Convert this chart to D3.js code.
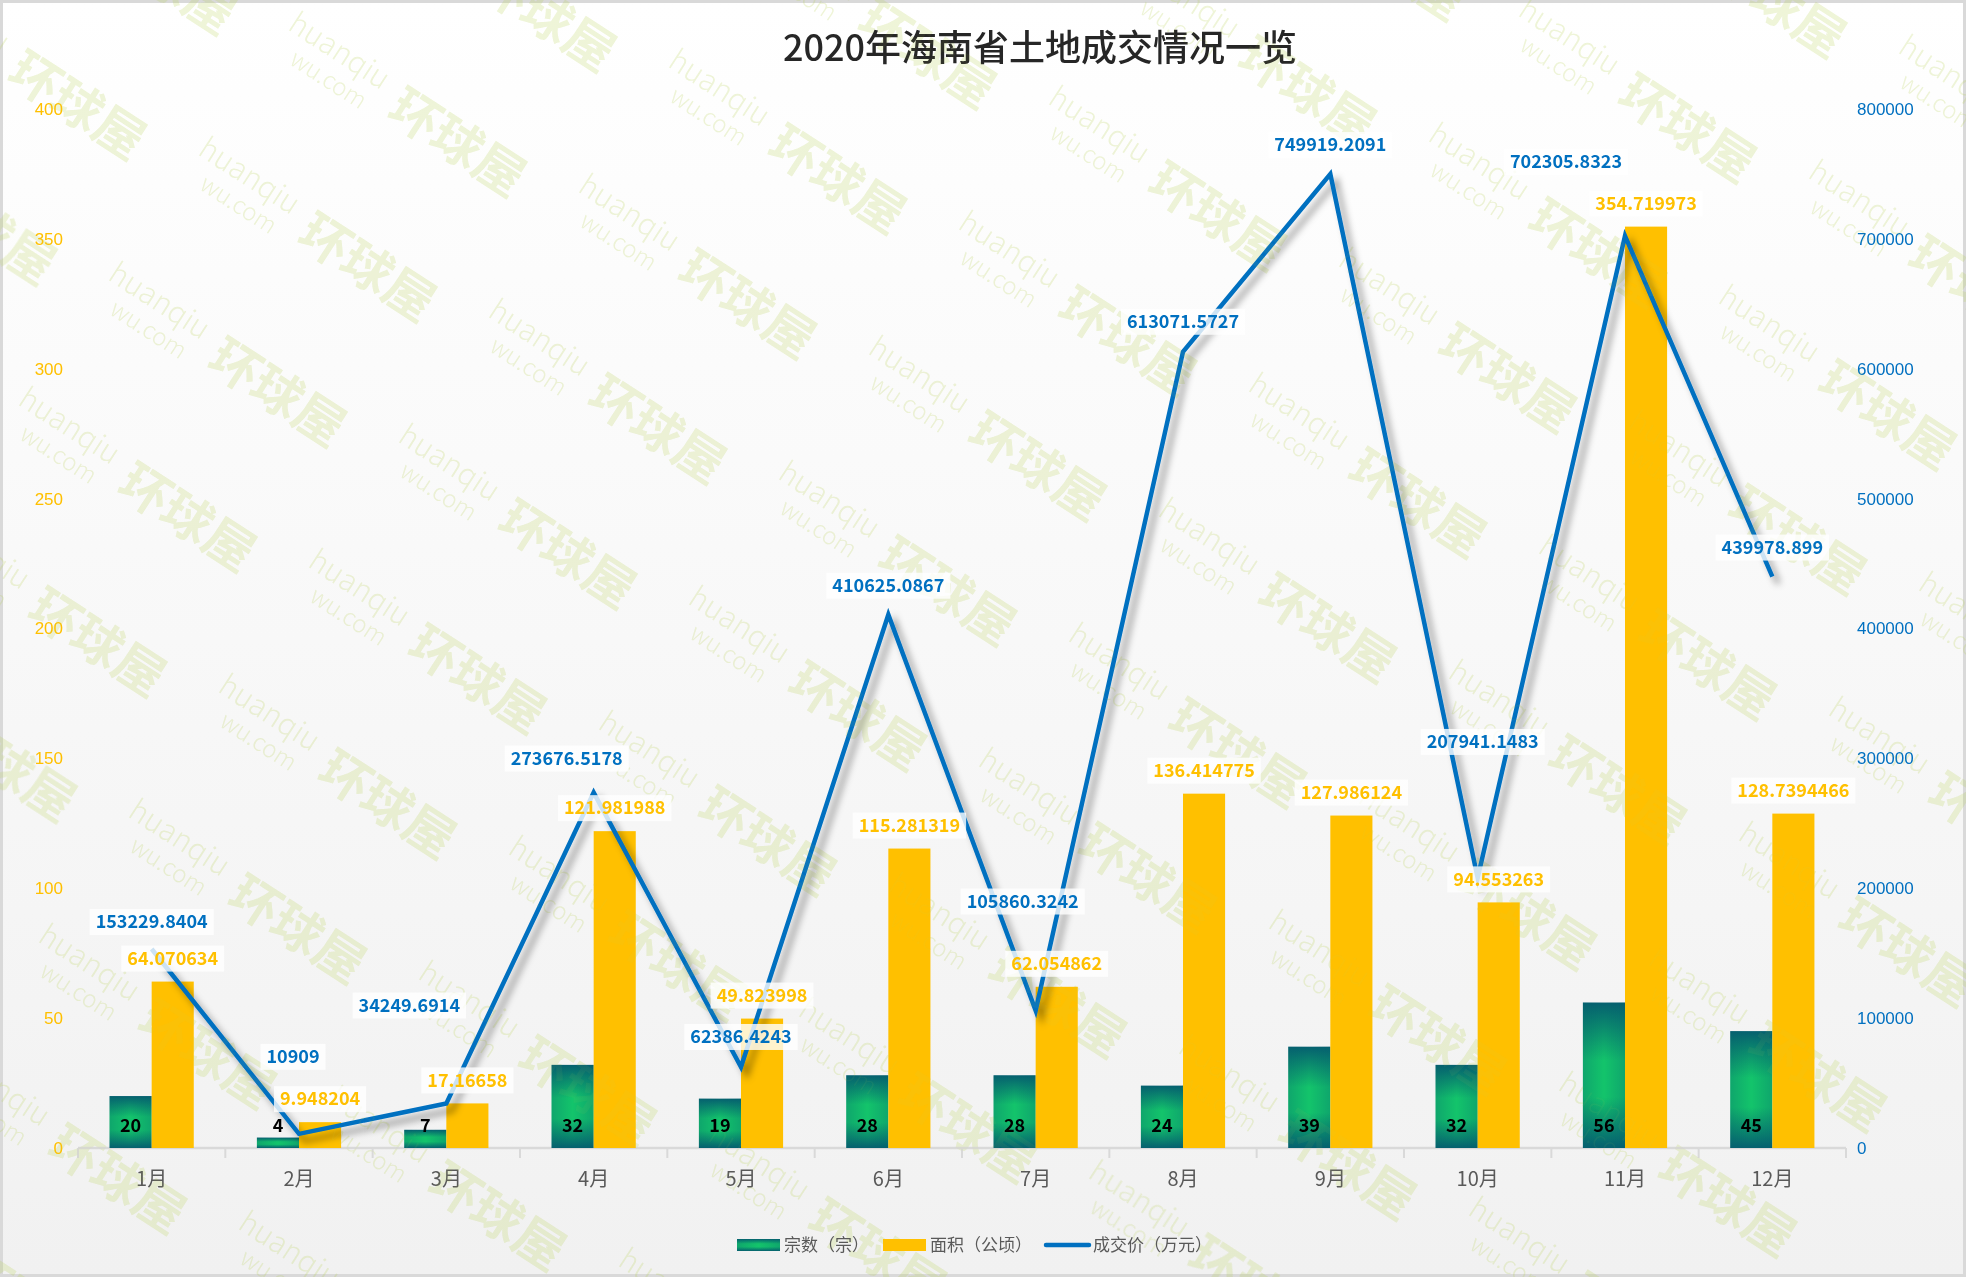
<!DOCTYPE html>
<html>
<head>
<meta charset="utf-8">
<script src="https://cdn.jsdelivr.net/npm/d3@7"></script>
<style>
  body { margin: 0; background: #fff; }
  svg text { font-family: "Noto Sans CJK SC", "Noto Sans", sans-serif; }
  .num { font-family: "Liberation Sans", Arial, sans-serif; }
</style>
</head>
<body>
<svg id="chart" width="1966" height="1277"></svg>
<script>
// data
var months = ["1月", "2月", "3月", "4月", "5月", "6月", "7月", "8月", "9月", "10月", "11月", "12月"];
var counts = [20, 4, 7, 32, 19, 28, 28, 24, 39, 32, 56, 45];
var areas = [64.070634, 9.948204, 17.16658, 121.981988, 49.823998, 115.281319, 62.054862,
             136.414775, 127.986124, 94.553263, 354.719973, 128.7394466];
var prices = [153229.8404, 10909, 34249.6914, 273676.5178, 62386.4243, 410625.0867, 105860.3242,
              613071.5727, 749919.2091, 207941.1483, 702305.8323, 439978.899];
var leftTicks = [0, 50, 100, 150, 200, 250, 300, 350, 400];
var rightTicks = [0, 100000, 200000, 300000, 400000, 500000, 600000, 700000, 800000];
var seriesNames = ["宗数（宗）", "面积（公顷）", "成交价（万元）"];
var title = "2020年海南省土地成交情况一览";

// hand placed price labels in the original: [dx, lift above point] in px
var priceLabelNudge = [[0, 27], [-6, 77], [-37, 98], [-27, 34], [0, 30], [0, 29],
                       [-13, 109], [0, 30], [0, 29], [5, 136], [-59, 74], [0, 29]];

var svg = d3.select("#chart"),
    W = +svg.attr("width"),
    H = +svg.attr("height"),
    plotLeft = 78, plotRight = 1846, plotTop = 109, base = 1148;

var BLUE = "#0070C0", GOLD = "#FFC000", GREY = "#595959";

var defs = svg.append("defs");
var bg = defs.append("linearGradient").attr("id", "bg").attr("x1", 0).attr("y1", 0).attr("x2", 0).attr("y2", 1);
bg.append("stop").attr("offset", 0).attr("stop-color", "#ffffff");
bg.append("stop").attr("offset", 1).attr("stop-color", "#f1f1f1");

var gv = defs.append("linearGradient").attr("id", "greenV").attr("x1", 0).attr("y1", 0).attr("x2", 0).attr("y2", 1);
gv.append("stop").attr("offset", 0).attr("stop-color", "#05606f");
gv.append("stop").attr("offset", 0.4).attr("stop-color", "#13c46b");
gv.append("stop").attr("offset", 0.65).attr("stop-color", "#13c46b");
gv.append("stop").attr("offset", 1).attr("stop-color", "#05606f");

var gh = defs.append("linearGradient").attr("id", "greenH").attr("x1", 0).attr("y1", 0).attr("x2", 1).attr("y2", 0);
gh.append("stop").attr("offset", 0).attr("stop-color", "#05606f").attr("stop-opacity", 0.3);
gh.append("stop").attr("offset", 0.5).attr("stop-color", "#05606f").attr("stop-opacity", 0);
gh.append("stop").attr("offset", 1).attr("stop-color", "#05606f").attr("stop-opacity", 0.3);

var shadow = defs.append("filter").attr("id", "shadow")
    .attr("x", "-10%").attr("y", "-10%").attr("width", "130%").attr("height", "130%");
shadow.append("feDropShadow").attr("dx", 6).attr("dy", 7).attr("stdDeviation", 3.5)
    .attr("flood-color", "#000").attr("flood-opacity", 0.38);

// background
svg.append("rect").attr("x", 1.5).attr("y", 1.5).attr("width", W - 3).attr("height", H - 3)
    .attr("fill", "url(#bg)").attr("stroke", "#d9d9d9").attr("stroke-width", 3);

// faint watermark tiles over the whole picture
function watermark(g) {
  for (var j = -3; j < 12; j++) {
    for (var i = -2; i < 7; i++) {
      var ox = 135 + i * 380 - j * 90, oy = 145 + i * 37 + j * 125;
      if (ox < -250 || ox > W + 250 || oy < -150 || oy > H + 150) continue;
      var u = g.append("g").attr("transform", "translate(" + ox + "," + oy + ") rotate(33)");
      u.append("text").attr("x", -70).attr("y", 16).attr("text-anchor", "middle")
          .attr("font-size", 50).attr("font-weight", "bold").attr("fill", "#bcd45a").text("环球屋");
      u.append("text").attr("x", -275).attr("y", -4).attr("font-size", 30)
          .attr("font-weight", 300).attr("fill", "#bcd45a").text("huanqiu");
      u.append("text").attr("x", -255).attr("y", 24).attr("font-size", 24)
          .attr("font-weight", 300).attr("fill", "#bcd45a").text("wu.com");
    }
  }
}
watermark(svg.append("g").attr("pointer-events", "none").attr("opacity", 0.18));

// scales
var x = d3.scaleBand().domain(months).range([plotLeft, plotRight]).padding(0);
var xs = d3.scaleBand().domain(["count", "area"]).range([0, x.bandwidth()]).paddingInner(0).paddingOuter(0.75);
var yL = d3.scaleLinear().domain([0, 400]).range([base, plotTop]);
var yR = d3.scaleLinear().domain([0, 800000]).range([base, plotTop]);
var cx = function(i) { return x(months[i]) + x.bandwidth() / 2; };

// title
svg.append("text").attr("x", 1040).attr("y", 48).attr("dy", "0.35em")
    .attr("text-anchor", "middle").attr("font-size", 36).attr("font-weight", 500)
    .attr("fill", "#262626").text(title);

// left axis
var gl = svg.append("g").attr("transform", "translate(" + plotLeft + ",0)")
    .call(d3.axisLeft(yL).tickValues(leftTicks).tickSize(0).tickPadding(15));
gl.select(".domain").remove();
gl.selectAll("text").attr("class", "num").attr("font-size", 17).attr("fill", GOLD);

// right axis
var gr = svg.append("g").attr("transform", "translate(" + plotRight + ",0)")
    .call(d3.axisRight(yR).tickValues(rightTicks).tickFormat(d3.format("d")).tickSize(0).tickPadding(11));
gr.select(".domain").remove();
gr.selectAll("text").attr("class", "num").attr("font-size", 17).attr("fill", BLUE);

// x axis
var gx = svg.append("g").attr("transform", "translate(0," + base + ")")
    .call(d3.axisBottom(x).tickSize(0));
gx.select(".domain").remove();
gx.selectAll("text").attr("y", 31).attr("dy", "0.35em").attr("font-size", 20).attr("fill", GREY);
gx.append("line").attr("x1", plotLeft).attr("x2", plotRight).attr("stroke", "#d9d9d9").attr("stroke-width", 2.5);
gx.selectAll(".bound").data(months.map(function(m) { return x(m); }).concat([plotRight]))
  .enter().append("line").attr("class", "bound")
    .attr("x1", function(d) { return d; }).attr("x2", function(d) { return d; })
    .attr("y1", 0).attr("y2", 10).attr("stroke", "#d9d9d9").attr("stroke-width", 2);

// bars: count (green)
var gCount = svg.append("g").selectAll("g").data(counts).enter().append("g");
gCount.append("rect")
    .attr("x", function(d, i) { return x(months[i]) + xs("count"); })
    .attr("y", function(d) { return yL(d); })
    .attr("width", xs.bandwidth())
    .attr("height", function(d) { return base - yL(d); })
    .attr("fill", "url(#greenV)");
gCount.append("rect")
    .attr("x", function(d, i) { return x(months[i]) + xs("count"); })
    .attr("y", function(d) { return yL(d); })
    .attr("width", xs.bandwidth())
    .attr("height", function(d) { return base - yL(d); })
    .attr("fill", "url(#greenH)");

// bars: area (gold)
svg.append("g").selectAll("rect").data(areas).enter().append("rect")
    .attr("x", function(d, i) { return x(months[i]) + xs("area"); })
    .attr("y", function(d) { return yL(d); })
    .attr("width", xs.bandwidth())
    .attr("height", function(d) { return base - yL(d); })
    .attr("fill", GOLD);

// price line
var line = d3.line()
    .x(function(d, i) { return cx(i); })
    .y(function(d) { return yR(d); });
svg.append("path").datum(prices)
    .attr("d", line)
    .attr("fill", "none")
    .attr("stroke", BLUE)
    .attr("stroke-width", 4.5)
    .attr("stroke-linejoin", "miter")
    .attr("stroke-miterlimit", 10)
    .attr("filter", "url(#shadow)");

// watermark shows faintly over the bars too
watermark(svg.append("g").attr("pointer-events", "none").attr("opacity", 0.07));

// labels with a pale box behind
function boxedLabel(g, px, py, txt, color) {
  var t = g.append("text").attr("x", px).attr("y", py).attr("dy", "0.35em")
      .attr("text-anchor", "middle").attr("font-size", 18).attr("font-weight", "bold")
      .attr("fill", color).text(txt);
  var w = t.node().getComputedTextLength();
  g.insert("rect", "text").attr("x", px - w / 2 - 6).attr("y", py - 13)
      .attr("width", w + 12).attr("height", 26)
      .attr("fill", "#ffffff").attr("fill-opacity", 0.8);
}

var gAreaLab = svg.append("g");
areas.forEach(function(d, i) {
  boxedLabel(gAreaLab.append("g"), x(months[i]) + xs("area") + xs.bandwidth() / 2, yL(d) - 23, String(d), GOLD);
});

var gPriceLab = svg.append("g");
prices.forEach(function(d, i) {
  var n = priceLabelNudge[i];
  boxedLabel(gPriceLab.append("g"), cx(i) + n[0], yR(d) - n[1], String(d), BLUE);
});

svg.append("g").selectAll("text").data(counts).enter().append("text")
    .attr("x", function(d, i) { return x(months[i]) + xs("count") + xs.bandwidth() / 2; })
    .attr("y", base - 22).attr("dy", "0.35em")
    .attr("text-anchor", "middle").attr("font-size", 18).attr("font-weight", "bold")
    .attr("fill", "#000").text(function(d) { return d; });

// legend
var legend = svg.append("g");
var lx = 737, ly = 1245;
seriesNames.forEach(function(name, i) {
  if (i === 0) {
    legend.append("rect").attr("x", lx).attr("y", ly - 6).attr("width", 43).attr("height", 12).attr("fill", "url(#greenV)");
    legend.append("rect").attr("x", lx).attr("y", ly - 6).attr("width", 43).attr("height", 12).attr("fill", "url(#greenH)");
  } else if (i === 1) {
    legend.append("rect").attr("x", lx).attr("y", ly - 6).attr("width", 43).attr("height", 12).attr("fill", GOLD);
  } else {
    legend.append("line").attr("x1", lx).attr("x2", lx + 43).attr("y1", ly).attr("y2", ly)
        .attr("stroke", BLUE).attr("stroke-width", 4.5).attr("stroke-linecap", "round");
  }
  var t = legend.append("text").attr("x", lx + 47).attr("y", ly).attr("dy", "0.35em")
      .attr("font-size", 17).attr("fill", GREY).text(name);
  lx += 47 + t.node().getComputedTextLength() + 14;
});
</script>
</body>
</html>
